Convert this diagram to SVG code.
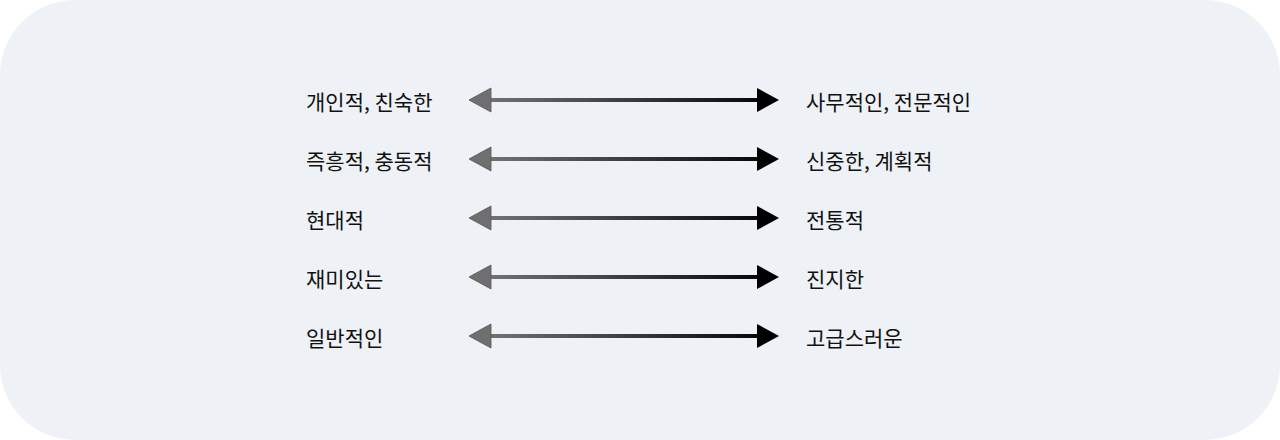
<svg xmlns="http://www.w3.org/2000/svg" width="1280" height="440" viewBox="0 0 1280 440">
  <defs>
    <linearGradient id="g" gradientUnits="userSpaceOnUse" x1="469" y1="0" x2="779" y2="0">
      <stop offset="0" stop-color="#7a7a7a"/>
      <stop offset="1" stop-color="#000000"/>
    </linearGradient>
  </defs>
  <style>
    text { font-family: "Noto Sans CJK KR", "Noto Sans", sans-serif; font-size: 21px; fill: #111111; }
    .shaft { stroke: url(#g); stroke-width: 4; fill: none; }
    .hl { fill: #6f6f6f; stroke: #555555; stroke-width: 0.8; }
    .hr { fill: #000000; }
  </style>
  <rect x="0" y="0" width="1280" height="440" rx="75" ry="75" fill="#eef1f6"/>
  <g id="connectors">
    <g transform="translate(0,100)">
      <line class="shaft" x1="489" y1="0" x2="759" y2="0"/>
      <polygon class="hl" points="469,0 491,-12 491,12"/>
      <polygon class="hr" points="757,-12 779,0 757,12"/>
    </g>
    <g transform="translate(0,159)">
      <line class="shaft" x1="489" y1="0" x2="759" y2="0"/>
      <polygon class="hl" points="469,0 491,-12 491,12"/>
      <polygon class="hr" points="757,-12 779,0 757,12"/>
    </g>
    <g transform="translate(0,218)">
      <line class="shaft" x1="489" y1="0" x2="759" y2="0"/>
      <polygon class="hl" points="469,0 491,-12 491,12"/>
      <polygon class="hr" points="757,-12 779,0 757,12"/>
    </g>
    <g transform="translate(0,277)">
      <line class="shaft" x1="489" y1="0" x2="759" y2="0"/>
      <polygon class="hl" points="469,0 491,-12 491,12"/>
      <polygon class="hr" points="757,-12 779,0 757,12"/>
    </g>
    <g transform="translate(0,336)">
      <line class="shaft" x1="489" y1="0" x2="759" y2="0"/>
      <polygon class="hl" points="469,0 491,-12 491,12"/>
      <polygon class="hr" points="757,-12 779,0 757,12"/>
    </g>
  </g>
  <g id="left-1"><text x="306" y="110">개인적, 친숙한</text></g>
  <g id="left-2"><text x="306" y="169">즉흥적, 충동적</text></g>
  <g id="left-3"><text x="306" y="228">현대적</text></g>
  <g id="left-4"><text x="306" y="287">재미있는</text></g>
  <g id="left-5"><text x="306" y="346">일반적인</text></g>
  <g id="right-1"><text x="806" y="110">사무적인, 전문적인</text></g>
  <g id="right-2"><text x="806" y="169">신중한, 계획적</text></g>
  <g id="right-3"><text x="806" y="228">전통적</text></g>
  <g id="right-4"><text x="806" y="287">진지한</text></g>
  <g id="right-5"><text x="806" y="346">고급스러운</text></g>
</svg>
